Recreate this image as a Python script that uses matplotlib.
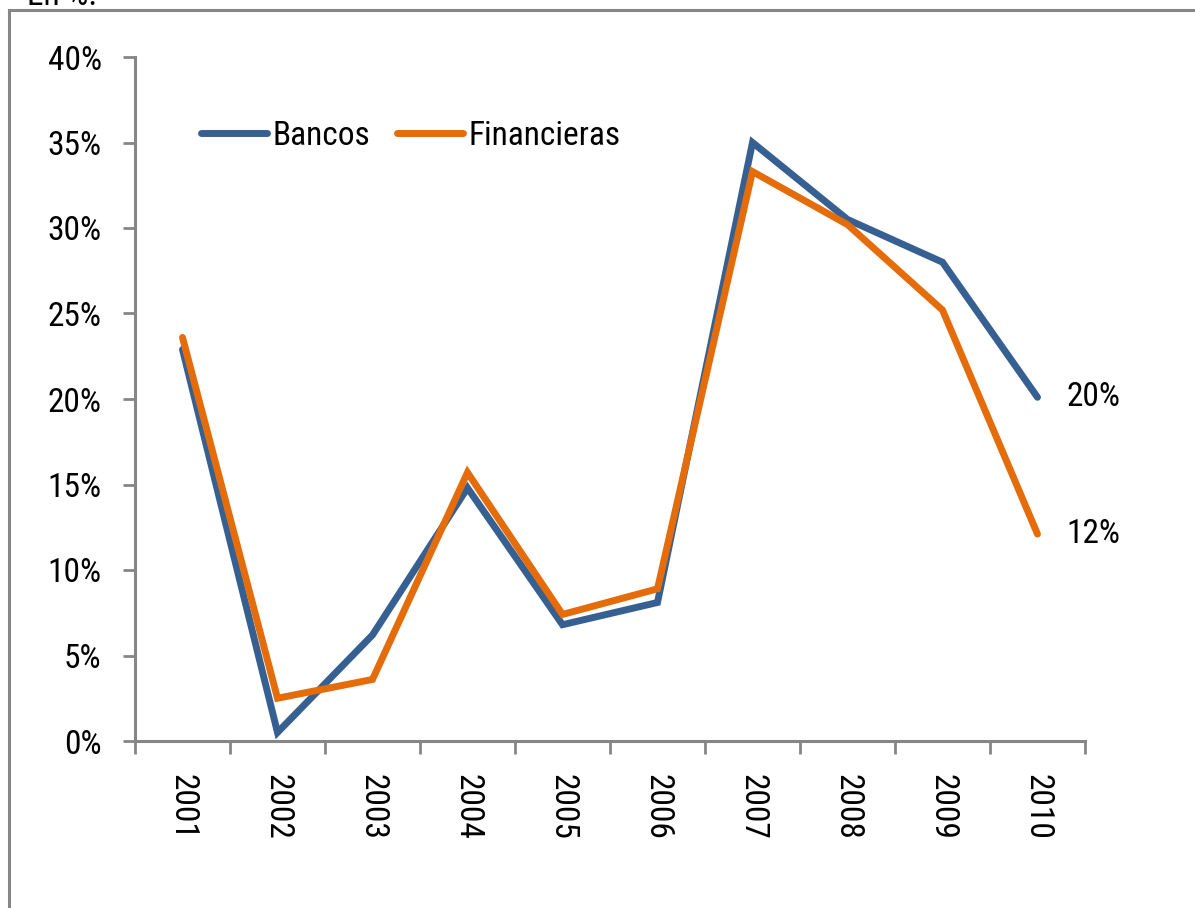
import matplotlib
matplotlib.use("Agg")
import matplotlib.pyplot as plt
from matplotlib.lines import Line2D
from matplotlib.ticker import FixedLocator, PercentFormatter

# ------------------ datos ------------------
ANIOS       = ["2001", "2002", "2003", "2004", "2005", "2006", "2007", "2008", "2009", "2010"]
BANCOS      = [22.9, 0.5, 6.2, 14.8, 6.8, 8.1, 35.0, 30.5, 28.0, 20.1]
FINANCIERAS = [23.6, 2.5, 3.6, 15.7, 7.4, 8.9, 33.3, 30.2, 25.2, 12.1]
ETIQ_FINAL  = ["20%", "12%"]
# -------------------------------------------

AZUL    = "#376092"
NARANJA = "#E46C0A"
GRIS    = "#868686"
FS      = 24

plt.rcParams["font.family"] = ["Liberation Sans Narrow", "Roboto Condensed",
                               "DejaVu Sans Condensed", "Liberation Sans"]

W, H = 1195, 908
fig = plt.figure(figsize=(W / 100, H / 100), dpi=100)
ax = fig.add_axes([135 / W, 1 - 741 / H, 950 / W, 684 / H])

x = list(range(len(ANIOS)))
ax.plot(x, BANCOS, color=AZUL, lw=5, solid_capstyle="round", solid_joinstyle="miter")
ax.plot(x, FINANCIERAS, color=NARANJA, lw=5, solid_capstyle="round", solid_joinstyle="miter")

ax.set_xlim(-0.5, len(ANIOS) - 0.5)
ax.set_ylim(0, 40)
ax.set_yticks(range(0, 41, 5))
ax.yaxis.set_major_formatter(PercentFormatter(decimals=0))

# ticks en los bordes de categoria, etiquetas al centro
ax.xaxis.set_major_locator(FixedLocator([i - 0.5 for i in range(len(ANIOS) + 1)]))
ax.xaxis.set_major_formatter(plt.NullFormatter())
ax.xaxis.set_minor_locator(FixedLocator(x))
ax.set_xticklabels(ANIOS, minor=True, rotation=270, fontsize=FS)
ax.tick_params(axis="x", which="minor", length=0, pad=24)
ax.tick_params(axis="x", which="major", length=9, width=2, color=GRIS, direction="out")
ax.tick_params(axis="y", length=9, width=2, color=GRIS, labelsize=FS, pad=15)

for lado in ["top", "right"]:
    ax.spines[lado].set_visible(False)
for lado in ["left", "bottom"]:
    ax.spines[lado].set_color(GRIS)
    ax.spines[lado].set_linewidth(2.2)

# etiquetas finales
ax.text(len(ANIOS) - 1 + 0.3, BANCOS[-1], ETIQ_FINAL[0], fontsize=FS, va="center", ha="left")
ax.text(len(ANIOS) - 1 + 0.3, FINANCIERAS[-1], ETIQ_FINAL[1], fontsize=FS, va="center", ha="left")

# leyenda
handles = [Line2D([], [], color=AZUL, lw=5, solid_capstyle="round"),
           Line2D([], [], color=NARANJA, lw=5, solid_capstyle="round")]
ax.legend(handles, ["Bancos", "Financieras"], loc="upper left", bbox_to_anchor=(0.055, 0.928),
          ncol=2, frameon=False, fontsize=FS, handlelength=2.0, handletextpad=0.15,
          columnspacing=0.8, borderaxespad=0)

# marco exterior y titulo cortado
fig.add_artist(Line2D([9 / W, 9 / W], [0, 1 - 10 / H], color=GRIS, lw=2.2))
fig.add_artist(Line2D([9 / W, 1], [1 - 10 / H, 1 - 10 / H], color=GRIS, lw=2.2))
fig.text(27 / W, 1 - 5 / H, "En %.", fontsize=FS, va="baseline", ha="left")

fig.savefig("out.png", dpi=100)
